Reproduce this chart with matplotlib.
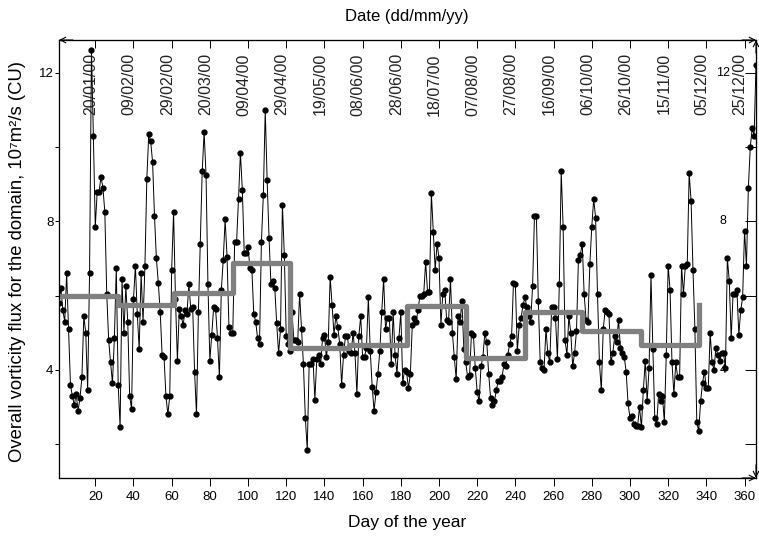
import numpy as np
import matplotlib
matplotlib.use("Agg")
import matplotlib.pyplot as plt
import matplotlib.transforms as mtransforms

plt.rcParams["font.family"] = ["Liberation Sans", "DejaVu Sans"]

# Daily overall vorticity flux (CU), one list per month of 2000
jan = [5.8, 6.2, 5.6, 5.3, 6.6, 5.1, 3.6, 3.3, 3.05, 3.35, 2.9, 3.25, 3.8, 5.45, 5.0, 3.45,
       6.6, 12.6, 10.3, 7.85, 8.8, 8.8, 9.2, 8.9, 8.25, 6.05, 4.8, 4.2, 3.65, 4.85, 6.75]
feb = [3.6, 2.45, 6.45, 5.0, 6.25, 5.3, 3.3, 2.95, 5.9, 6.8, 5.5, 4.55, 6.6, 5.3, 6.8,
       9.15, 10.35, 10.15, 9.6, 8.15, 7.0, 6.35, 5.55, 4.4, 4.35, 3.3, 2.8, 3.3, 6.7]
mar = [8.25, 5.9, 4.25, 5.65, 5.45, 5.2, 5.6, 5.5, 6.3, 5.65, 5.7, 3.95, 2.8, 5.55, 7.4, 9.35,
       10.4, 9.25, 6.3, 4.25, 4.95, 5.7, 5.65, 4.85, 3.8, 6.15, 6.95, 8.05, 7.05, 5.15, 5.0]
apr = [5.0, 7.45, 7.45, 8.6, 9.85, 8.85, 7.15, 7.15, 7.3, 6.75, 6.7, 5.5, 5.3, 4.85, 4.7,
       7.45, 8.7, 11.0, 9.1, 7.55, 6.3, 6.4, 6.2, 5.25, 4.45, 5.1, 8.45, 7.1, 4.9, 4.7]
may = [4.5, 5.55, 4.8, 4.8, 4.75, 6.05, 5.1, 4.15, 2.7, 1.85, 4.15, 4.15, 4.3, 3.2, 4.3, 4.4,
       4.15, 4.85, 4.95, 4.35, 4.75, 6.5, 5.75, 4.95, 5.45, 5.15, 4.7, 3.6, 4.4, 4.9, 4.9]
jun = [4.5, 4.45, 5.0, 4.45, 3.35, 4.9, 5.45, 4.35, 4.35, 4.6, 5.95, 4.5, 3.55, 2.9, 3.4,
       3.9, 4.5, 5.55, 6.45, 5.1, 5.4, 5.4, 4.15, 5.55, 4.4, 3.9, 4.85, 5.55, 3.65, 4.0]
jul = [3.95, 3.5, 3.9, 5.2, 5.4, 5.3, 5.6, 6.0, 6.0, 6.05, 6.9, 6.1, 6.1, 8.75, 7.7, 6.7,
       7.4, 7.0, 5.2, 6.05, 6.15, 5.35, 5.3, 6.45, 5.0, 4.35, 3.75, 5.45, 5.3, 5.85, 4.55]
aug = [4.2, 3.8, 3.85, 5.0, 4.95, 4.05, 3.4, 3.15, 4.1, 4.35, 5.0, 4.75, 3.9, 3.25, 3.05, 3.15,
       3.45, 3.7, 3.7, 3.8, 4.15, 4.1, 4.4, 4.7, 4.9, 6.35, 6.3, 4.5, 5.2, 5.4, 5.75]
sep = [5.95, 5.7, 5.45, 5.3, 6.25, 8.15, 8.15, 5.85, 4.2, 4.05, 4.0, 5.1, 4.45, 4.2, 5.7,
       5.7, 5.4, 4.3, 6.3, 9.35, 7.85, 4.8, 4.4, 5.45, 5.0, 4.1, 4.45, 5.05, 6.95, 7.1]
oct_ = [7.4, 6.05, 5.35, 5.3, 6.85, 7.85, 8.6, 8.1, 6.05, 4.2, 3.45, 5.1, 5.6, 5.55, 5.5, 4.2,
        4.45, 4.9, 4.75, 5.35, 4.6, 4.45, 4.35, 3.95, 3.1, 2.7, 2.75, 2.55, 2.5, 2.5, 3.0]
nov = [2.45, 3.45, 4.25, 3.15, 4.05, 6.55, 4.55, 2.7, 2.55, 3.35, 3.15, 3.3, 2.6, 4.4, 6.8,
       6.15, 4.2, 3.35, 4.2, 3.8, 3.8, 6.8, 6.05, 6.8, 6.85, 9.3, 8.55, 6.7, 5.1, 2.6]
dec = [2.35, 3.15, 3.65, 3.95, 3.5, 3.5, 5.0, 4.2, 4.0, 4.6, 4.4, 4.25, 4.45, 4.45, 4.05, 7.0,
       6.4, 4.85, 6.05, 6.05, 6.15, 4.95, 5.6, 5.95, 7.75, 6.8, 8.9, 10.0, 10.5, 10.3, 12.2]

# Monthly means (grey step line)
month_start = [1, 32, 61, 92, 122, 153, 183, 214, 245, 275, 306, 336]
month_mean = [5.98, 5.75, 6.07, 6.87, 4.59, 4.68, 5.71, 4.32, 5.57, 5.05, 4.68, 5.75]

# Axis ticks and labels
tick_days = [20, 40, 60, 80, 100, 120, 140, 160, 180, 200, 220, 240, 260, 280, 300, 320, 340, 360]
tick_dates = ["20/01/00", "09/02/00", "29/02/00", "20/03/00", "09/04/00", "29/04/00",
              "19/05/00", "08/06/00", "28/06/00", "18/07/00", "07/08/00", "27/08/00",
              "16/09/00", "06/10/00", "26/10/00", "15/11/00", "05/12/00", "25/12/00"]
flux_ticks = [2, 4, 6, 8, 10, 12]
flux_labels = ["", "4", "", "8", "", "12"]

flux = jan + feb + mar + apr + may + jun + jul + aug + sep + oct_ + nov + dec
days = np.arange(1, len(flux) + 1)

fig = plt.figure(figsize=(7.59, 5.37), dpi=100)
ax = fig.add_axes([59 / 759, 59 / 537, 697 / 759, 438 / 537])

ax.plot(days, flux, color="black", lw=0.7, marker="o", ms=3.5, zorder=2)
ax.step(month_start, month_mean, where="post", color="#808080", lw=3.8, zorder=3)

ax.set_xlim(1, 366)
ax.set_ylim(1.09, 12.88)

for s in ax.spines.values():
    s.set_linewidth(0.8)

# bottom and left axes
ax.set_xticks(tick_days)
ax.set_xticklabels([str(d) for d in tick_days])
ax.tick_params(axis="x", direction="out", length=6, width=0.7, labelsize=9.5, pad=3)
ax.set_yticks(flux_ticks)
ax.set_yticklabels(flux_labels)
ax.tick_params(axis="y", direction="out", length=3, width=0.7, labelsize=9.5, pad=1)

# top axis: inward ticks with dates inside the plot
ax_top = ax.twiny()
ax_top.set_xlim(ax.get_xlim())
ax_top.set_xticks(tick_days)
ax_top.tick_params(axis="x", direction="in", length=6, width=0.7, labeltop=False)
top_tr = mtransforms.blended_transform_factory(ax.transData, ax.transAxes)
for d, lab in zip(tick_days, tick_dates):
    ax.text(d - 2.3, 0.97, lab, transform=top_tr, rotation=90, ha="center", va="top",
            fontsize=11.5, color="#222222")

# right axis: inward ticks, labels inside
ax_right = ax.twinx()
ax_right.set_ylim(ax.get_ylim())
ax_right.set_yticks(flux_ticks)
ax_right.tick_params(axis="y", direction="in", length=8, width=0.7, labelright=False)
right_tr = mtransforms.blended_transform_factory(ax.transAxes, ax.transData)
for v, lab in zip(flux_ticks, flux_labels):
    if lab:
        ax.text(0.953, v, lab, transform=right_tr, ha="center", va="center", fontsize=9)

# small arrow heads at the frame corners
arrow = dict(arrowstyle="->", lw=0.8, color="black", shrinkA=0, shrinkB=0, mutation_scale=10)
for tip, tail in [((0, 1), (0.02, 1)), ((1, 1), (0.98, 1)), ((1, 0), (0.98, 0)),
                  ((1, 1), (1, 0.97)), ((1, 0), (1, 0.03))]:
    ax.annotate("", xy=tip, xytext=tail, xycoords="axes fraction",
                arrowprops=arrow, annotation_clip=False)

fig.text(407 / 759, 1 - 17 / 537, "Date (dd/mm/yy)", ha="center", va="center", fontsize=12)
fig.text(407 / 759, 1 - 523 / 537, "Day of the year", ha="center", va="center", fontsize=12.5)
fig.text(18 / 759, 1 - 261 / 537, "Overall vorticity flux for the domain, 10\u2077m\u00b2/s (CU)",
         rotation=90, ha="center", va="center", fontsize=13.3)

fig.savefig("out.png", dpi=100)
